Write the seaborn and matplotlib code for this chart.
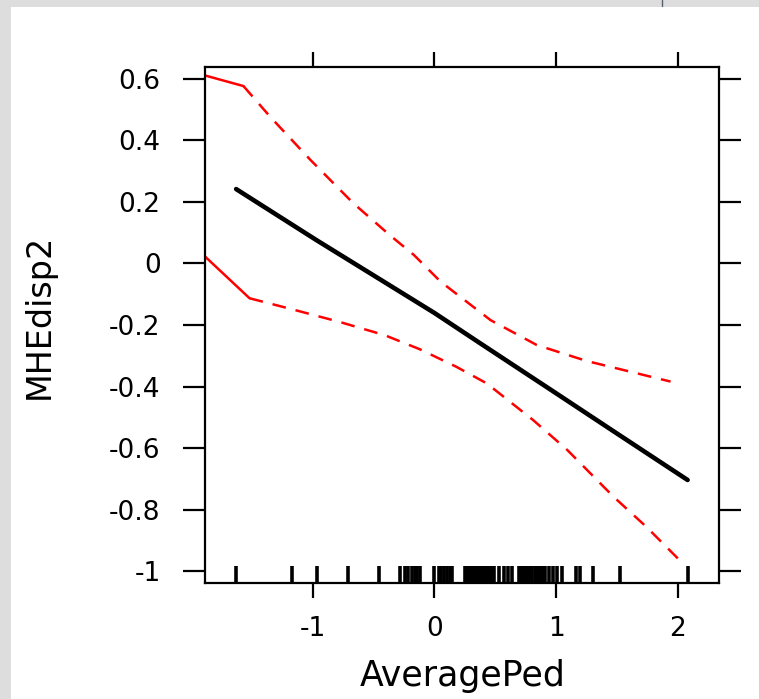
import numpy as np
import pandas as pd
import seaborn as sns
import matplotlib.pyplot as plt
from matplotlib.patches import Rectangle
from matplotlib.lines import Line2D

# smooth term of AveragePed
fit_x = [-1.63, -0.97, -0.45, 0.0, 0.37, 0.98, 1.50, 2.08]
fit_y = [0.242, 0.076, -0.051, -0.161, -0.258, -0.417, -0.553, -0.704]

# upper / lower confidence band
upper_x = [-1.90, -1.57, -1.35, -1.02, -0.67, -0.37, -0.17, 0.05, 0.46, 0.84, 1.25, 1.94]
upper_y = [0.613, 0.577, 0.477, 0.337, 0.197, 0.093, 0.028, -0.059, -0.184, -0.265, -0.317, -0.384]
lower_x = [-1.90, -1.52, -1.15, -0.78, -0.41, -0.12, 0.18, 0.43, 0.81, 1.09, 1.47, 1.74, 2.04]
lower_y = [0.028, -0.113, -0.151, -0.190, -0.233, -0.279, -0.336, -0.390, -0.509, -0.606, -0.758, -0.856, -0.975]

# observed AveragePed values (rug)
rug_x = [-1.633, -1.174, -0.968, -0.713, -0.458, -0.283, -0.241, -0.221,
         -0.184, -0.164, -0.141, -0.119, 0.0, 0.034, 0.057, 0.079, 0.102,
         0.124, 0.141, 0.25, 0.265, 0.28, 0.295, 0.31, 0.325, 0.34, 0.355,
         0.37, 0.385, 0.40, 0.415, 0.43, 0.445, 0.46, 0.475, 0.49, 0.532,
         0.574, 0.608, 0.637, 0.695, 0.71, 0.725, 0.74, 0.755, 0.77, 0.785,
         0.80, 0.83, 0.845, 0.86, 0.875, 0.89, 0.905, 0.942, 0.970, 1.004,
         1.047, 1.160, 1.196, 1.301, 1.528, 2.085]

x_ticks = [-1, 0, 1, 2]
y_ticks = [0.6, 0.4, 0.2, 0, -0.2, -0.4, -0.6, -0.8, -1]
y_labels = ["0.6", "0.4", "0.2", "0", "-0.2", "-0.4", "-0.6", "-0.8", "-1"]

sns.set_theme(style="white")
plt.rcParams['font.family'] = ['DejaVu Sans']
plt.rcParams['axes.unicode_minus'] = False

fig = plt.figure(figsize=(7.59, 6.99), dpi=100, facecolor="#dddddd")
# white panel inside the grey frame
fig.add_artist(Rectangle((11 / 759, 0), 1, 1 - 7 / 699, transform=fig.transFigure,
                         facecolor="white", edgecolor="none", zorder=0))
fig.add_artist(Line2D([662 / 759, 662 / 759], [1 - 6 / 699, 1], transform=fig.transFigure,
                      color="#5a5f70", lw=1))

ax = fig.add_axes([205 / 759, 1 - 583 / 699, 514 / 759, 516 / 699])
ax.set_facecolor("none")

df_fit = pd.DataFrame({"x": fit_x, "y": fit_y})
sns.lineplot(data=df_fit, x="x", y="y", color="black", lw=3.3, estimator=None, ax=ax)

# confidence limits: first piece solid, the rest dashed
for bx, by in [(upper_x, upper_y), (lower_x, lower_y)]:
    sns.lineplot(x=bx[:2], y=by[:2], color="red", lw=1.8, estimator=None, ax=ax)
    line = sns.lineplot(x=bx[1:], y=by[1:], color="red", lw=1.8, estimator=None, ax=ax).lines[-1]
    line.set_dashes((5.5, 4))

sns.rugplot(x=rug_x, height=0.033, color="black", linewidth=2.6, ax=ax)

ax.set_xlim(-1.886, 2.338)
ax.set_ylim(-1.039, 0.639)
ax.set_xticks(x_ticks)
ax.set_xticklabels([str(t) for t in x_ticks])
ax.set_yticks(y_ticks)
ax.set_yticklabels(y_labels)

for s in ax.spines.values():
    s.set_visible(True)
    s.set_color("black")
    s.set_linewidth(1.6)

ax.tick_params(axis="y", direction="out", length=16, width=1.6, pad=16,
               labelsize=19, left=True, right=True, labelright=False, colors="black")
ax.tick_params(axis="x", direction="out", length=11, width=1.6, pad=13,
               labelsize=19, bottom=True, top=True, labeltop=False, colors="black")

ax.set_xlabel("AveragePed", fontsize=25, color="black")
ax.set_ylabel("MHEdisp2", fontsize=24, color="black")
ax.xaxis.set_label_coords(0.502, -0.148)
ax.yaxis.set_label_coords(-0.29, 0.516)

fig.savefig("out.png", dpi=100, facecolor=fig.get_facecolor())
